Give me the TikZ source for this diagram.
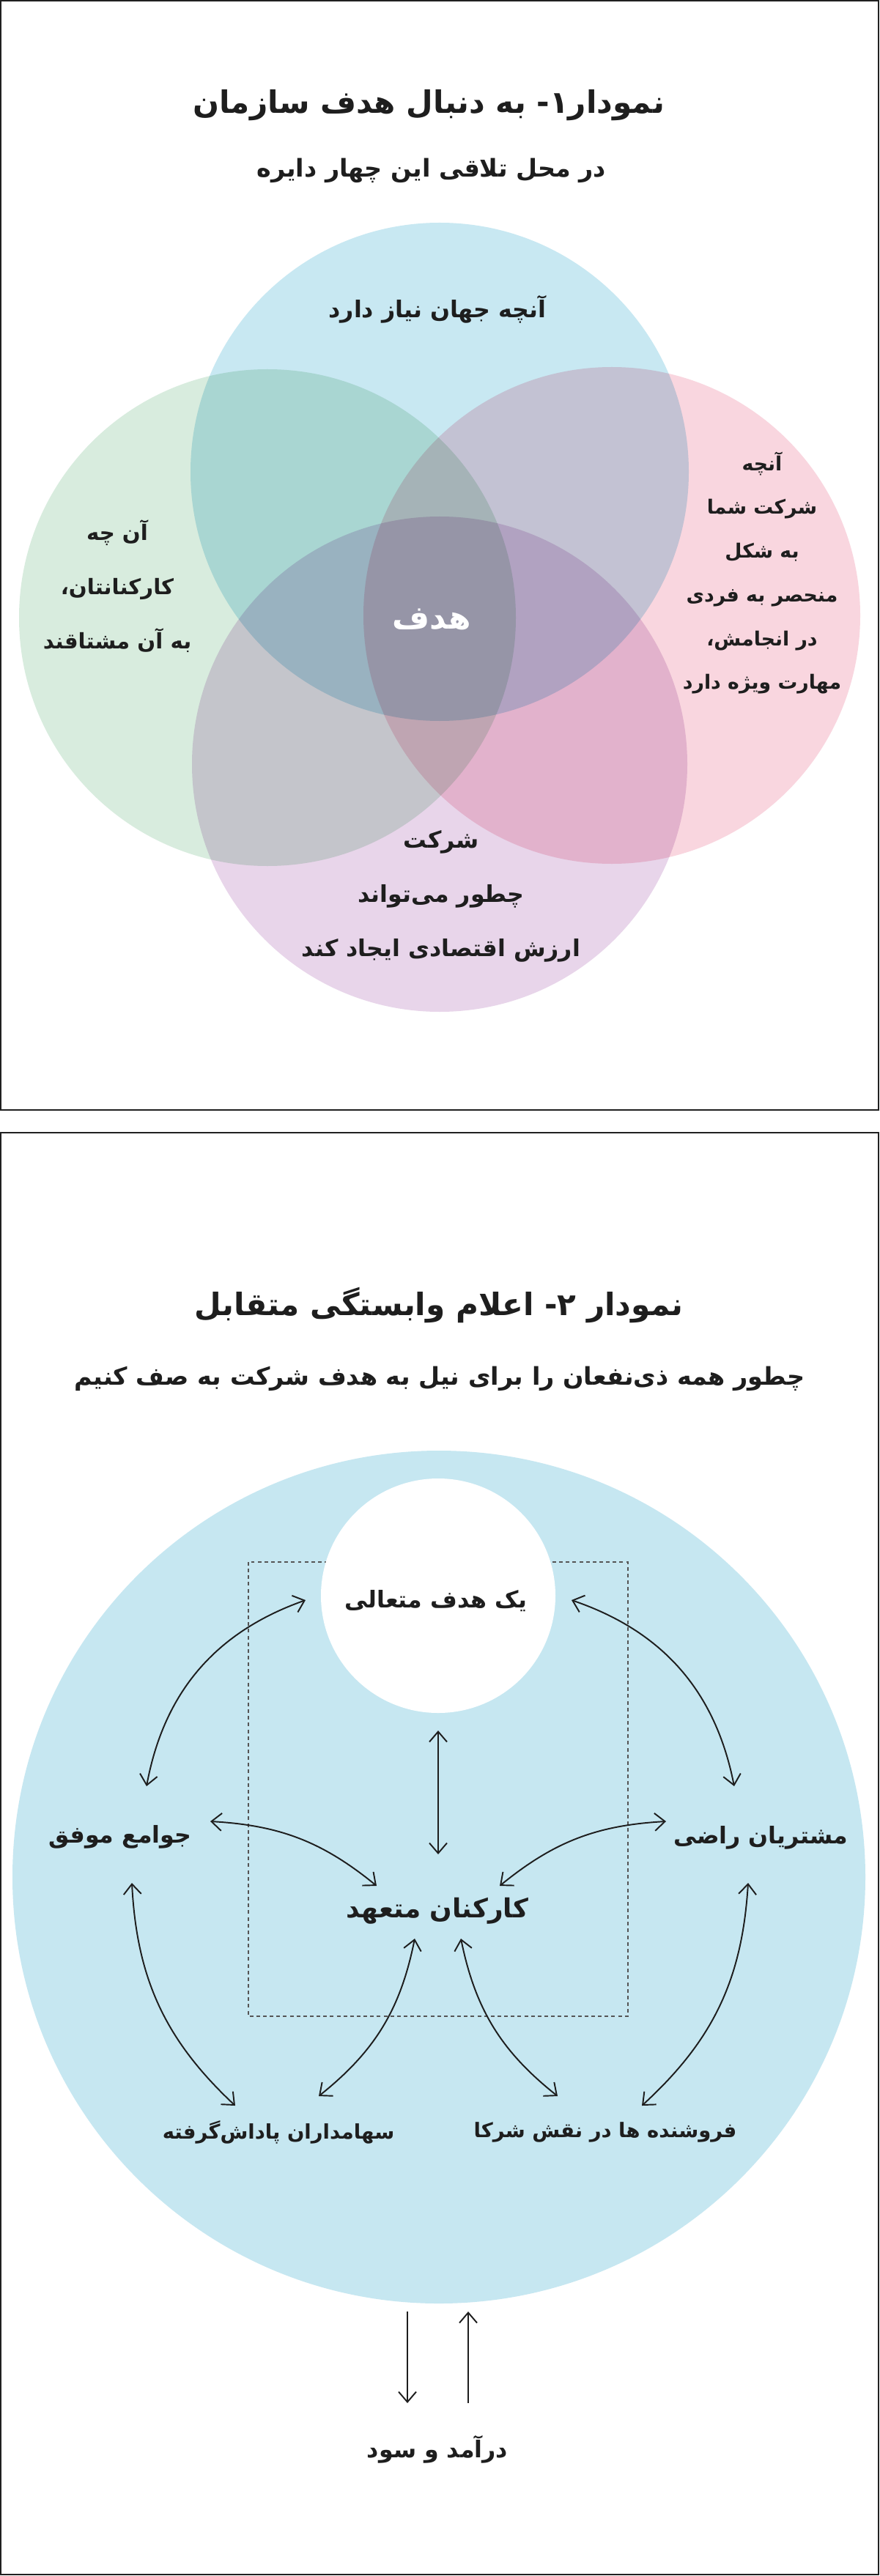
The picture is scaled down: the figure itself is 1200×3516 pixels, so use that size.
\documentclass[tikz,border=0pt]{standalone}
\usepackage{fontspec}
\newfontfamily\farsifont[Script=Arabic]{DejaVu Sans}
\TeXXeTstate=1
\usetikzlibrary{arrows.meta}
\definecolor{ink}{HTML}{1E1E1E}
\definecolor{framec}{HTML}{202020}
\definecolor{dashc}{HTML}{555555}
\definecolor{needc}{HTML}{C8E8F2}
\definecolor{lovec}{HTML}{D8ECDE}
\definecolor{goodc}{HTML}{F9D6DF}
\definecolor{paidc}{HTML}{E8D5EA}
\definecolor{bigc}{HTML}{C6E7F1}
\newcommand{\rl}[1]{\beginR#1\endR}
\tikzset{
  frame/.style={draw=framec, line width=0.6pt},
  dashbox/.style={draw=dashc, line width=0.4pt, dash pattern=on 1.4pt off 1.2pt},
  ttl/.style={text=ink, inner sep=0pt, font=\farsifont\bfseries\fontsize{12}{14}\selectfont},
  sub/.style={text=ink, inner sep=0pt, font=\farsifont\bfseries\fontsize{9.5}{11}\selectfont},
  lab/.style={text=ink, inner sep=0pt, align=center, font=\farsifont\bfseries\fontsize{9}{21}\selectfont},
  labl/.style={lab, font=\farsifont\bfseries\fontsize{8.3}{21}\selectfont},
  labs/.style={lab, font=\farsifont\bfseries\fontsize{7.6}{17}\selectfont},
  labn/.style={lab, font=\farsifont\bfseries\fontsize{7.8}{10}\selectfont},
  labw/.style={text=white, inner sep=0pt, font=\farsifont\bfseries\fontsize{12.5}{15}\selectfont},
  labb/.style={lab, font=\farsifont\bfseries\fontsize{10.2}{13}\selectfont},
  tip/.tip={Straight Barb[length=1.4mm,width=2.4mm]},
  arr/.style={draw=ink, line width=0.55pt, tip-tip},
  one/.style={draw=ink, line width=0.55pt, -tip}
}
\begin{document}
\begin{tikzpicture}[x=0.01cm,y=-0.01cm]
  \useasboundingbox (0,0) rectangle (1200,3516);
  \fill[white] (0,0) rectangle (1200,3516);

  % panel 1
  \draw[frame] (1,1) rectangle (1199,1515);
  \node[ttl] (title1) at (585,144) {\rl{نمودار\kern0pt۱\kern0pt- به دنبال هدف سازمان}};
  \node[sub] (sub1) at (589,233) {\rl{در محل تلاقی این چهار دایره}};

  \begin{scope}[blend mode=multiply]
    \fill[needc] (600,644) circle (340);
    \fill[lovec] (365,843) circle (339);
    \fill[goodc] (835,840) circle (339);
    \fill[paidc] (600,1043) circle (338);
  \end{scope}

  \node[lab] (need) at (597,422) {\rl{آنچه جهان نیاز دارد}};
  \node[labl] (love) at (160,800) {\rl{آن چه}\\\rl{کارکنانتان،}\\\rl{به آن مشتاقند}};
  \node[labs] (good) at (1040,782) {\rl{آنچه}\\\rl{شرکت شما}\\\rl{به شکل}\\\rl{منحصر به فردی}\\\rl{در انجامش،}\\\rl{مهارت ویژه دارد}};
  \node[lab] (paid) at (602,1223) {\rl{شرکت}\\\rl{چطور می‌تواند}\\\rl{ارزش اقتصادی ایجاد کند}};
  \node[labw] (goal) at (589,845) {\rl{هدف}};

  % panel 2
  \draw[frame] (1,1546) rectangle (1199,3514);
  \node[ttl] (title2) at (599,1781) {\rl{نمودار ۲\kern0pt- اعلام وابستگی متقابل}};
  \node[sub] (sub2) at (600,1882) {\rl{چطور همه ذی‌نفعان را برای نیل به هدف شرکت به صف کنیم}};

  \fill[bigc] (599,2562) circle (582);
  \draw[dashbox] (339,2132) rectangle (857,2752);
  \fill[white] (598,2178) circle (160);

  \node[lab] (aim) at (595,2185) {\rl{یک هدف متعالی}};
  \node[lab] (comm) at (164,2507) {\rl{جوامع موفق}};
  \node[lab] (cust) at (1038,2508) {\rl{مشتریان راضی}};
  \node[labb] (staff) at (597,2608) {\rl{کارکنان متعهد}};
  \node[labn] (share) at (380,2910) {\rl{سهامداران پاداش‌گرفته}};
  \node[labn] (supp) at (826,2910) {\rl{فروشنده ها در نقش شرکا}};
  \node[lab] (profit) at (597,3343) {\rl{درآمد و سود}};

  \coordinate (aim-w) at (417,2184);
  \coordinate (aim-e) at (780,2184);
  \coordinate (aim-s) at (598,2362);
  \coordinate (comm-n) at (200,2438);
  \coordinate (comm-e) at (287,2486);
  \coordinate (comm-s) at (180,2570);
  \coordinate (cust-n) at (1002,2438);
  \coordinate (cust-w) at (909,2486);
  \coordinate (cust-s) at (1021,2570);
  \coordinate (staff-n) at (598,2531);
  \coordinate (staff-nw) at (514,2574);
  \coordinate (staff-ne) at (682,2574);
  \coordinate (staff-sw) at (566,2646);
  \coordinate (staff-se) at (629,2646);
  \coordinate (share-nw) at (321,2874);
  \coordinate (share-ne) at (435,2861);
  \coordinate (supp-nw) at (761,2861);
  \coordinate (supp-ne) at (876,2874);
  \coordinate (out-a) at (556,3155);
  \coordinate (out-b) at (556,3280);
  \coordinate (in-a) at (639,3280);
  \coordinate (in-b) at (639,3155);

  \draw[arr] (aim-w) to[bend right=30] (comm-n);
  \draw[arr] (aim-e) to[bend left=30] (cust-n);
  \draw[arr] (aim-s) -- (staff-n);
  \draw[arr] (comm-e) to[bend left=18] (staff-nw);
  \draw[arr] (cust-w) to[bend right=18] (staff-ne);
  \draw[arr] (comm-s) to[bend right=22] (share-nw);
  \draw[arr] (staff-sw) to[bend left=20] (share-ne);
  \draw[arr] (staff-se) to[bend right=20] (supp-nw);
  \draw[arr] (cust-s) to[bend left=22] (supp-ne);
  \draw[one] (out-a) -- (out-b);
  \draw[one] (in-a) -- (in-b);
\end{tikzpicture}
\end{document}
